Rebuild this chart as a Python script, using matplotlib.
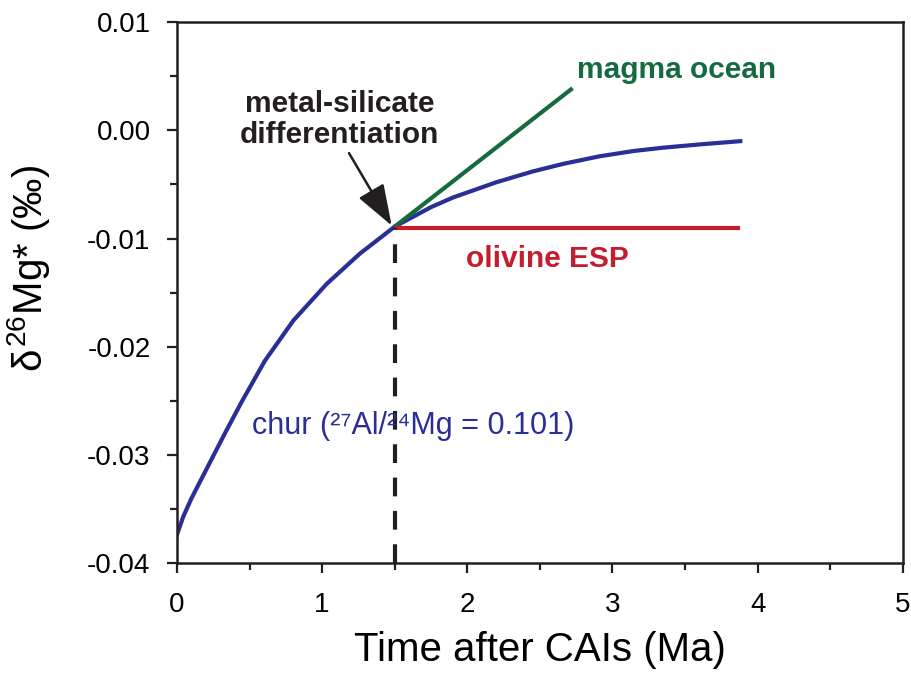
import numpy as np
import matplotlib
matplotlib.use("Agg")
import matplotlib.pyplot as plt

plt.rcParams['font.family'] = ['Liberation Sans', 'DejaVu Sans']
plt.rcParams['mathtext.fontset'] = 'custom'
plt.rcParams['mathtext.rm'] = 'Liberation Sans'
plt.rcParams['mathtext.it'] = 'Liberation Sans'

# chur evolution curve
chur_t = [0.0, 0.044, 0.101, 0.216, 0.331, 0.446, 0.606, 0.801, 1.031, 1.26, 1.5,
          1.75, 1.903, 2.2, 2.45, 2.66, 2.91, 3.15, 3.35, 3.6, 3.88]
chur_d = [-0.0374, -0.0357, -0.0340, -0.0310, -0.0280, -0.0251, -0.0213, -0.0176,
          -0.0142, -0.0114, -0.0089, -0.0071, -0.0062, -0.0048, -0.0038, -0.0031,
          -0.0024, -0.0019, -0.0016, -0.0013, -0.0010]

# magma ocean and olivine ESP branches
magma_t = [1.5, 2.725]
magma_d = [-0.0089, 0.0039]
olivine_t = [1.5, 3.88]
olivine_d = [-0.009, -0.009]

t_diff = 1.5
d_diff = -0.009

blue = '#2a2e96'
green = '#156b3d'
red = '#c41e2e'
black = '#231f20'

fig = plt.figure(figsize=(9.12, 6.73), dpi=100)
ax = fig.add_axes([0.194, 0.1635, 0.796, 0.8035])

ax.plot(chur_t, chur_d, color=blue, lw=3, solid_joinstyle='round')
ax.plot(magma_t, magma_d, color=green, lw=3, solid_capstyle='butt')
ax.plot(olivine_t, olivine_d, color=red, lw=3, solid_capstyle='butt')
ax.plot([t_diff, t_diff], [-0.04, d_diff], color=black, lw=3, dashes=(4.5, 3.5))

ax.annotate('', xy=(1.479, -0.0088), xytext=(1.185, -0.0021),
            arrowprops=dict(arrowstyle='-|>,head_length=0.85,head_width=0.3', color=black,
                            lw=1.8, mutation_scale=30, shrinkA=0, shrinkB=0))

ax.text(1.12, 0.0010, 'metal-silicate\ndifferentiation', ha='center', va='center',
        fontsize=21.5, fontweight='bold', color=black, linespacing=1.15)
ax.text(2.755, 0.0056, 'magma ocean', ha='left', va='center', fontsize=21.5,
        fontweight='bold', color=green)
ax.text(2.55, -0.0119, 'olivine ESP', ha='center', va='center', fontsize=21.5,
        fontweight='bold', color=red)
ax.text(0.517, -0.0273, 'chur (\u00b2\u2077Al/\u00b2\u2074Mg = 0.101)', ha='left',
        va='center', fontsize=22, color=blue)

ax.set_xlim(0, 5)
ax.set_ylim(-0.04, 0.01)
ax.set_xticks([0, 1, 2, 3, 4, 5])
ax.set_xticks([0.5, 1.5, 2.5, 3.5, 4.5], minor=True)
yt = [-0.04, -0.03, -0.02, -0.01, 0.0, 0.01]
ax.set_yticks(yt)
ax.set_yticklabels(['-0.04', '-0.03', '-0.02', '-0.01', '0.00', '0.01'])
ax.set_yticks([-0.035, -0.025, -0.015, -0.005, 0.005], minor=True)

for s in ax.spines.values():
    s.set_linewidth(1.8)
    s.set_color(black)
ax.tick_params(which='major', direction='out', length=7, width=1.6, labelsize=20,
               pad=12, color=black)
ax.tick_params(axis='x', which='major', pad=14)
ax.tick_params(which='minor', direction='out', length=5, width=1.6, color=black)

ax.set_xlabel('Time after CAIs (Ma)', fontsize=29)
ax.xaxis.set_label_coords(0.5, -0.125)
ax.set_ylabel(r'$\delta^{26}$Mg* (‰)', fontsize=29)
ax.yaxis.set_label_coords(-0.172, 0.545)

fig.savefig('out.png', dpi=100)
